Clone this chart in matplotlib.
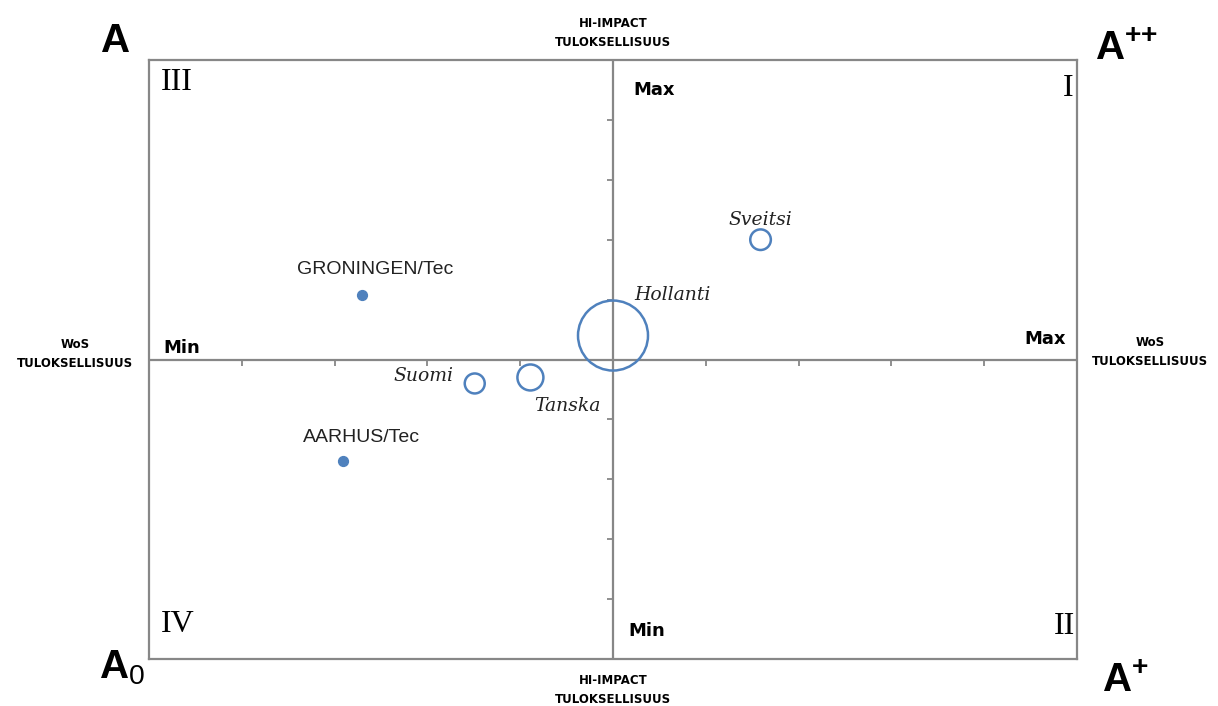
import numpy as np
from matplotlib import pyplot as plt

plt.rcParams['mathtext.fontset'] = 'custom'
plt.rcParams['mathtext.rm'] = 'Liberation Sans'
plt.rcParams['mathtext.bf'] = 'Liberation Sans:bold'

# bubbles (country level)
countries = ['Sveitsi', 'Hollanti', 'Tanska', 'Suomi']
country_x = [1.59, 0.0, -0.89, -1.49]
country_y = [2.0, 0.4, -0.3, -0.4]
country_size = [220, 2540, 350, 207]

# small dots (institutions)
units = ['GRONINGEN/Tec', 'AARHUS/Tec']
unit_x = [-2.70, -2.91]
unit_y = [1.08, -1.70]

tick_pos = [-4, -3, -2, -1, 1, 2, 3, 4]

BLUE = '#4f81bd'
GREY = '#878787'

W, H = 1218, 706
fig = plt.figure(figsize=(W / 100, H / 100), dpi=100)
ax = fig.add_axes([149 / W, (H - 659) / H, 928 / W, 599 / H])
ax.set_xlim(-5, 5)
ax.set_ylim(-5, 5)
ax.set_xticks([])
ax.set_yticks([])
for s in ax.spines.values():
    s.set_color(GREY)
    s.set_linewidth(1.6)

# cross and its ticks
ax.axhline(0, color=GREY, lw=1.6, zorder=1)
ax.axvline(0, color=GREY, lw=1.6, zorder=1)
ax.plot(tick_pos, np.zeros(len(tick_pos)), ls='none', marker=3, ms=4, mew=1.3, mec=GREY)
ax.plot(np.zeros(len(tick_pos)), tick_pos, ls='none', marker=0, ms=4, mew=1.3, mec=GREY)

ax.scatter(country_x, country_y, s=country_size, facecolors='none', edgecolors=BLUE, linewidths=1.8, zorder=3)
ax.scatter(unit_x, unit_y, s=50, color=BLUE, zorder=3)

# labels of the points
serif_it = dict(family='DejaVu Serif', style='italic', fontsize=13.5, color='#222222')
ax.annotate(countries[0], (country_x[0], country_y[0]), xytext=(0, 20), textcoords='offset pixels', ha='center', va='center', **serif_it)
ax.annotate(countries[1], (country_x[1], country_y[1]), xytext=(21, 41), textcoords='offset pixels', ha='left', va='center', **serif_it)
ax.annotate(countries[2], (country_x[2], country_y[2]), xytext=(37, -29), textcoords='offset pixels', ha='center', va='center', **serif_it)
ax.annotate(countries[3], (country_x[3], country_y[3]), xytext=(-21, 7), textcoords='offset pixels', ha='right', va='center', **serif_it)
sans = dict(family='Liberation Sans', fontsize=14, color='#222222')
ax.annotate(units[0], (unit_x[0], unit_y[0]), xytext=(13, 25), textcoords='offset pixels', ha='center', va='center', **sans)
ax.annotate(units[1], (unit_x[1], unit_y[1]), xytext=(19, 24), textcoords='offset pixels', ha='center', va='center', **sans)


def fig_text(x, y, s, **kw):
    fig.text(x / W, 1 - y / H, s, **kw)


# Min / Max
mm = dict(family='DejaVu Sans', fontweight='bold', fontsize=13, ha='left', va='center')
fig_text(633, 90, 'Max', **mm)
fig_text(163, 348, 'Min', **mm)
fig_text(1024, 339, 'Max', **mm)
fig_text(628, 631, 'Min', **mm)

# quadrant numerals
rom = dict(family='Liberation Serif', fontsize=23, va='center')
fig_text(161, 82, 'III', ha='left', **rom)
fig_text(1073, 89, 'I', ha='right', **rom)
fig_text(161, 625, 'IV', ha='left', **rom)
fig_text(1075, 627, 'II', ha='right', **rom)

# axis titles
ttl = dict(family='DejaVu Sans', fontweight='bold', fontsize=8.5, ha='center', va='center', linespacing=1.6)
fig_text(613, 33, 'HI-IMPACT\nTULOKSELLISUUS', **ttl)
fig_text(613, 690, 'HI-IMPACT\nTULOKSELLISUUS', **ttl)
fig_text(75, 354, 'WoS\nTULOKSELLISUUS', **ttl)
fig_text(1150, 352, 'WoS\nTULOKSELLISUUS', **ttl)

# corner grades
big = dict(fontsize=29, ha='left', va='baseline')
fig_text(100, 52, r'$\mathbf{A}$', **big)
fig_text(1095, 60, r'$\mathbf{A}^{\mathbf{{+}{+}}}$', **big)
fig_text(99, 678, r'$\mathbf{A}_{\mathrm{0}}$', **big)
fig_text(1102, 692, r'$\mathbf{A}^{\mathbf{{+}}}$', **big)

fig.savefig('out.png', dpi=100)
